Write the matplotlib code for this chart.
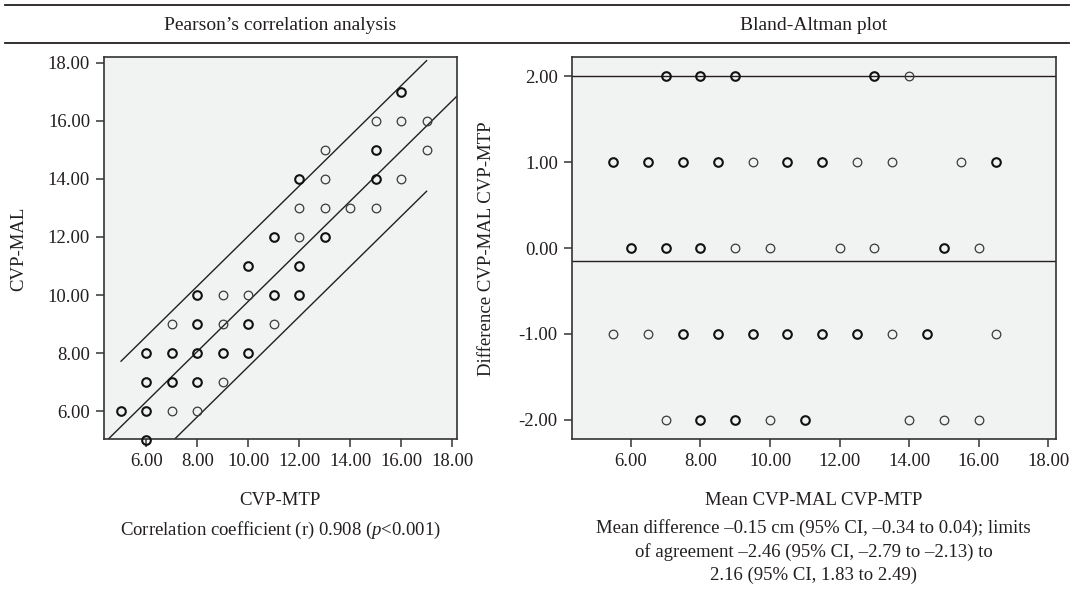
import numpy as np
import matplotlib
matplotlib.use("Agg")
import matplotlib.pyplot as plt
from matplotlib.lines import Line2D

# --- 0. FONT ---
plt.rcParams['font.family'] = ['Liberation Serif', 'DejaVu Serif']
plt.rcParams['mathtext.fontset'] = 'custom'
plt.rcParams['mathtext.it'] = 'Liberation Serif:italic'
plt.rcParams['mathtext.rm'] = 'Liberation Serif'
plt.rcParams['axes.unicode_minus'] = False

# --- 1. DATA: Pearson (CVP-MTP vs CVP-MAL), bold = overlapping points ---
PEARSON_X = [6, 5, 6, 7, 8, 6, 7, 8, 9, 6, 7, 8, 9, 10, 7, 8, 9, 10, 11,
             8, 9, 10, 11, 12, 10, 12, 11, 12, 13, 12, 13, 14, 15,
             12, 13, 15, 16, 13, 15, 17, 15, 16, 17, 16]
PEARSON_Y = [5, 6, 6, 6, 6, 7, 7, 7, 7, 8, 8, 8, 8, 8, 9, 9, 9, 9, 9,
             10, 10, 10, 10, 10, 11, 11, 12, 12, 12, 13, 13, 13, 13,
             14, 14, 14, 14, 15, 15, 15, 16, 16, 16, 17]
PEARSON_BOLD = [1, 1, 1, 0, 0, 1, 1, 1, 0, 1, 1, 1, 1, 1, 0, 1, 0, 1, 0,
                1, 0, 0, 1, 1, 1, 1, 1, 0, 1, 0, 0, 0, 0,
                1, 0, 1, 0, 0, 1, 0, 0, 0, 0, 1]

# fit line and prediction band
FIT_INTERCEPT = 1.155
FIT_SLOPE = 0.863
PI_HALF = 2.25

# --- 2. DATA: Bland-Altman (mean vs difference) ---
BA_MEAN = [7, 8, 9, 13, 14,
           5.5, 6.5, 7.5, 8.5, 9.5, 10.5, 11.5, 12.5, 13.5, 15.5, 16.5,
           6, 7, 8, 9, 10, 12, 13, 15, 16,
           5.5, 6.5, 7.5, 8.5, 9.5, 10.5, 11.5, 12.5, 13.5, 14.5, 16.5,
           7, 8, 9, 10, 11, 14, 15, 16]
BA_DIFF = [2] * 5 + [1] * 11 + [0] * 9 + [-1] * 11 + [-2] * 8
BA_BOLD = [1, 1, 1, 1, 0,
           1, 1, 1, 1, 0, 1, 1, 0, 0, 0, 1,
           1, 1, 1, 0, 0, 0, 0, 1, 0,
           0, 0, 1, 1, 1, 1, 1, 1, 0, 1, 0,
           0, 1, 1, 0, 1, 0, 0, 0]
MEAN_DIFF = -0.15
UPPER_LINE = 2.00

TICKS_X = [6, 8, 10, 12, 14, 16, 18]
TICKS_Y_LEFT = [6, 8, 10, 12, 14, 16, 18]
TICKS_Y_RIGHT = [-2, -1, 0, 1, 2]

BG = '#f1f2f2'
INK = '#231f20'
FS = 13.5

fig = plt.figure(figsize=(10.74, 5.99), dpi=100)
ax1 = fig.add_axes([0.0968, 0.2666, 0.3284, 0.6377])
ax2 = fig.add_axes([0.5323, 0.2666, 0.4507, 0.6377])


def style_axes(ax):
    ax.set_facecolor(BG)
    for s in ax.spines.values():
        s.set_color('#333333')
        s.set_linewidth(1.2)
    ax.tick_params(direction='out', length=6, width=1.2, color='#444444',
                   labelsize=FS, labelcolor=INK, pad=4)


def scatter_open(ax, xs, ys, bold):
    xs = np.array(xs, dtype=float)
    ys = np.array(ys, dtype=float)
    b = np.array(bold, dtype=bool)
    ax.plot(xs[~b], ys[~b], 'o', ms=6.2, mfc='none', mec='#3a3a3a', mew=0.9,
            zorder=3, clip_on=False)
    ax.plot(xs[b], ys[b], 'o', ms=6.2, mfc='none', mec='#111111', mew=1.5,
            zorder=3, clip_on=False)


# --- 3. LEFT: Pearson ---
style_axes(ax1)
scatter_open(ax1, PEARSON_X, PEARSON_Y, PEARSON_BOLD)
ax1.set_xlim(4.33, 18.18)
ax1.set_ylim(5.03, 18.19)
xfit = np.array(ax1.get_xlim())
ax1.plot(xfit, FIT_INTERCEPT + FIT_SLOPE * xfit, color=INK, lw=1.0)
xband = np.array([min(PEARSON_X), max(PEARSON_X)], dtype=float)
ax1.plot(xband, FIT_INTERCEPT + FIT_SLOPE * xband + PI_HALF, color=INK, lw=1.0)
ax1.plot(xband, FIT_INTERCEPT + FIT_SLOPE * xband - PI_HALF, color=INK, lw=1.0)
ax1.set_xticks(TICKS_X)
ax1.set_xticklabels(['%.2f' % t for t in TICKS_X])
ax1.set_yticks(TICKS_Y_LEFT)
ax1.set_yticklabels(['%.2f' % t for t in TICKS_Y_LEFT])

# --- 4. RIGHT: Bland-Altman ---
style_axes(ax2)
scatter_open(ax2, BA_MEAN, BA_DIFF, BA_BOLD)
ax2.set_xlim(4.3, 18.21)
ax2.set_ylim(-2.225, 2.218)
ax2.axhline(MEAN_DIFF, color=INK, lw=1.0, zorder=2)
ax2.axhline(UPPER_LINE, color=INK, lw=1.0, zorder=2)
ax2.set_xticks(TICKS_X)
ax2.set_xticklabels(['%.2f' % t for t in TICKS_X])
ax2.set_yticks(TICKS_Y_RIGHT)
ax2.set_yticklabels(['%.2f' % t for t in TICKS_Y_RIGHT])

# --- 5. HEADER RULES AND TEXTS ---
fig.add_artist(Line2D([0.005, 0.995], [0.992, 0.992], color=INK, lw=1.3))
fig.add_artist(Line2D([0.005, 0.995], [0.929, 0.929], color=INK, lw=1.3))
fig.text(0.2610, 0.958, "Pearson’s correlation analysis", ha='center', va='center',
         fontsize=14, color=INK)
fig.text(0.7577, 0.958, "Bland-Altman plot", ha='center', va='center',
         fontsize=14, color=INK)

fig.text(0.017, 0.585, "CVP-MAL", rotation=90, ha='center', va='center',
         fontsize=FS, color=INK)
fig.text(0.453, 0.585, "Difference CVP-MAL CVP-MTP", rotation=90, ha='center',
         va='center', fontsize=FS, color=INK)

fig.text(0.2610, 0.164, "CVP-MTP", ha='center', va='center', fontsize=FS, color=INK)
fig.text(0.7577, 0.164, "Mean CVP-MAL CVP-MTP", ha='center', va='center',
         fontsize=FS, color=INK)

fig.text(0.2610, 0.115, "Correlation coefficient (r) 0.908 ($p$<0.001)", ha='center',
         va='center', fontsize=FS, color=INK)
fig.text(0.7577, 0.134,
         "Mean difference –0.15 cm (95% CI, –0.34 to 0.04); limits\n"
         "of agreement –2.46 (95% CI, –2.79 to –2.13) to\n"
         "2.16 (95% CI, 1.83 to 2.49)",
         ha='center', va='top', fontsize=FS, color=INK, linespacing=1.45)

fig.savefig('out.png', dpi=100)
